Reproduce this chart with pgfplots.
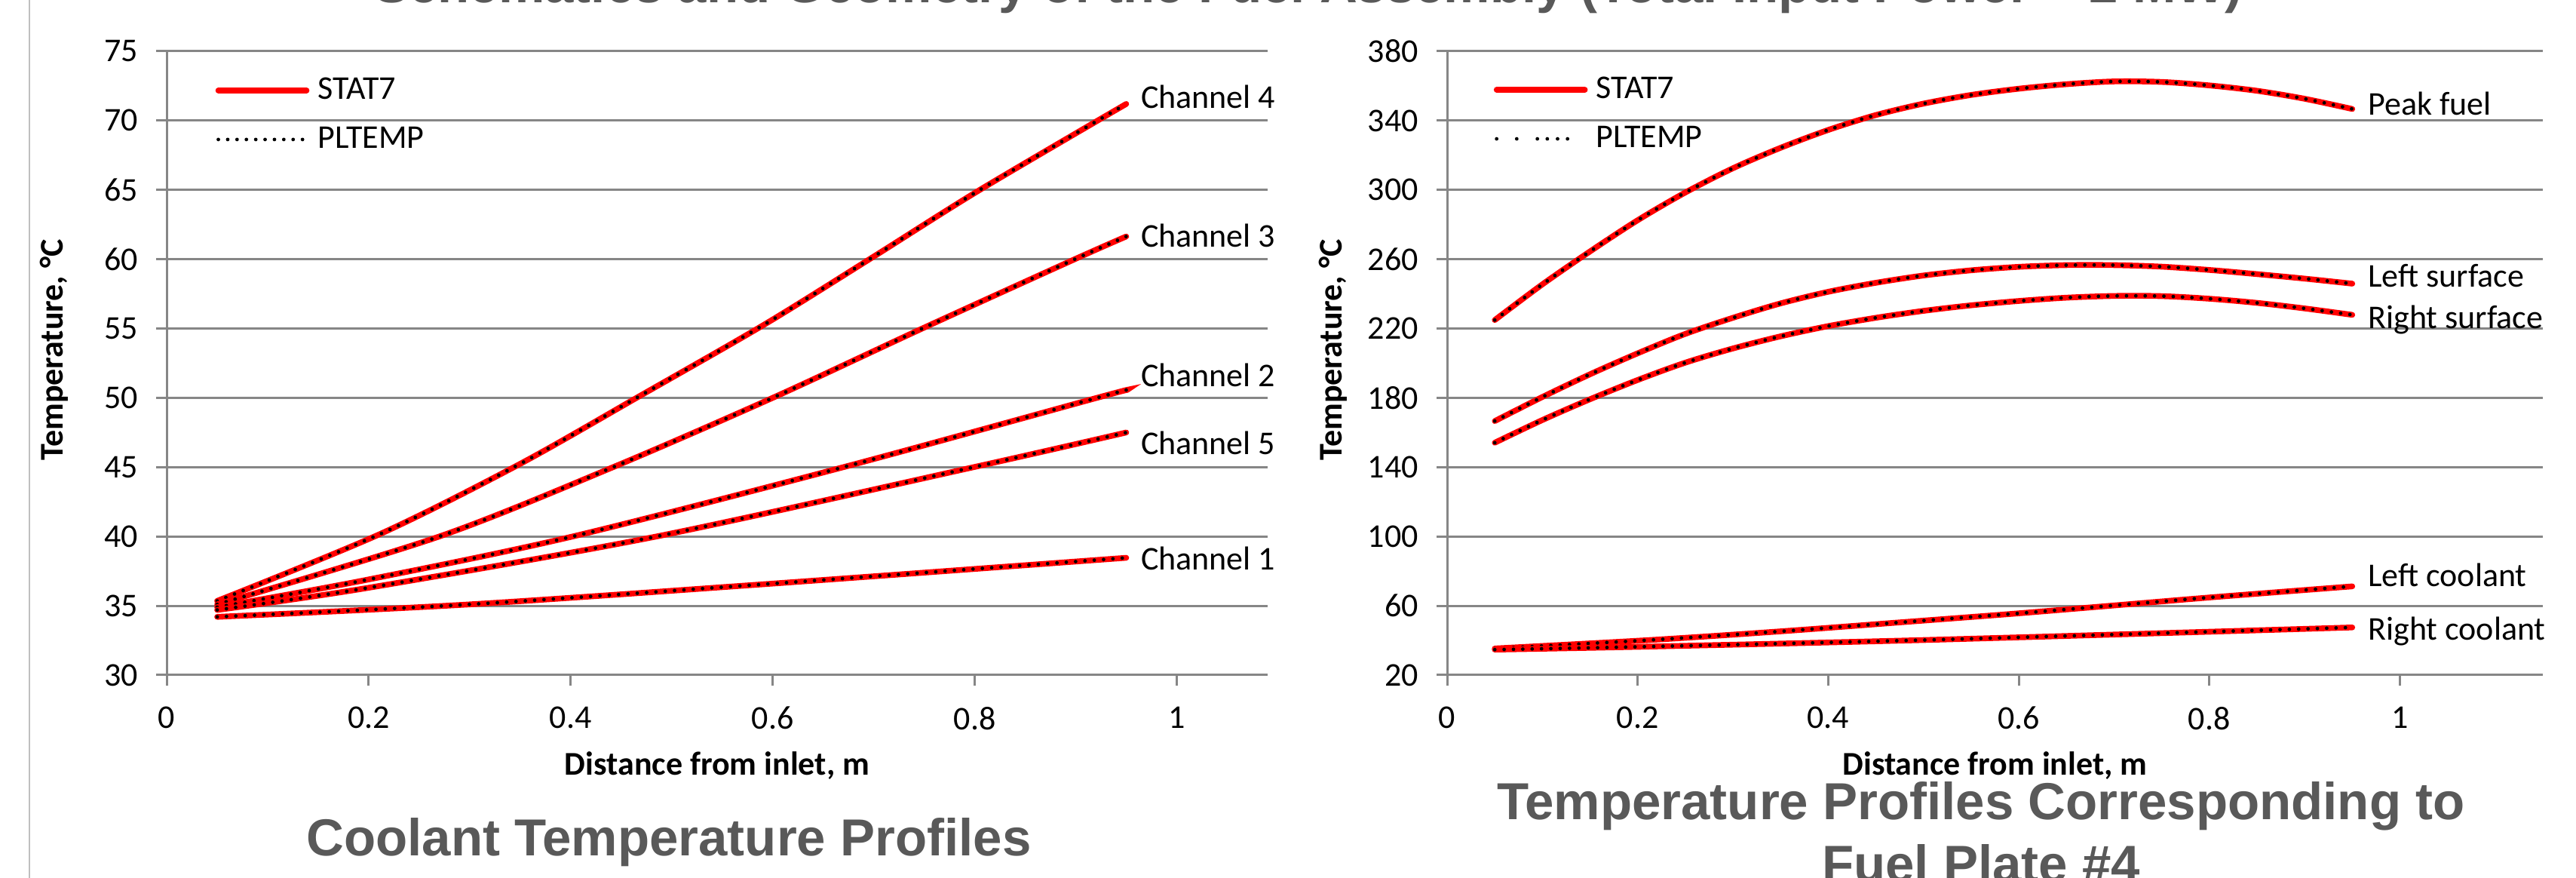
\documentclass[border=0pt]{standalone}
\usepackage{pgfplots}
\usepackage{pgfplotstable}
\pgfplotsset{compat=1.18}
\usepackage{fontspec}
\setmainfont{Carlito}
\newfontfamily\titlefont{Liberation Sans}
\definecolor{gridgray}{HTML}{868686}
\definecolor{titlegray}{HTML}{595959}
\definecolor{edgegray}{HTML}{BFBFBF}

% Left panel: coolant channels
\pgfplotstableread{
x y
0.05 35.35
0.212 40.2
0.349 45.2
0.470 50.2
0.592 55.3
0.698 60.1
0.805 65.0
0.95 71.2
}\chfour
\pgfplotstableread{
x y
0.05 35.1
0.27 40
0.442 45
0.6 50
0.748 55
0.899 60
0.95 61.64
}\chthree
\pgfplotstableread{
x y
0.05 34.9
0.2 36.9
0.402 40
0.67 45
0.921 50
0.95 50.55
}\chtwo
\pgfplotstableread{
x y
0.05 34.7
0.2 36.3
0.485 40
0.799 45
0.95 47.5
}\chfive
\pgfplotstableread{
x y
0.05 34.2
0.3 35.1
0.6 36.6
0.95 38.46
}\chone
% Right panel: fuel plate #4
\pgfplotstableread{
x y
0.05 224.9
0.10 245.5
0.15 264.5
0.20 282.5
0.25 298.5
0.30 312.5
0.35 324.3
0.40 334.6
0.45 343.2
0.50 349.8
0.55 354.8
0.60 358.4
0.65 361.0
0.70 362.6
0.75 362.3
0.80 360.3
0.85 357.2
0.90 352.6
0.95 346.7
}\peakfuel
\pgfplotstableread{
x y
0.05 166.6
0.10 180.5
0.15 193.6
0.20 205.7
0.25 216.9
0.30 226.2
0.35 234.5
0.40 241.2
0.45 246.4
0.50 250.6
0.55 253.6
0.60 255.6
0.65 256.6
0.70 256.6
0.75 255.7
0.80 253.8
0.85 251.4
0.90 248.8
0.95 245.9
}\leftsurf
\pgfplotstableread{
x y
0.05 154.1
0.10 167.2
0.15 179.2
0.20 190.3
0.25 200.3
0.30 208.5
0.35 215.5
0.40 221.4
0.45 226.2
0.50 230.2
0.55 233.4
0.60 235.9
0.65 237.8
0.70 238.8
0.75 238.7
0.80 237.2
0.85 234.8
0.90 231.6
0.95 227.9
}\rightsurf

\tikzset{lab/.style={anchor=base west, inner sep=0pt, font=\fontsize{11}{13}\selectfont, text=black}}
\pgfplotsset{
  stat/.style={draw=red, line width=1.9pt, line cap=round, smooth, no markers},
  pl/.style={draw=black, line width=1.2pt, line cap=round, dash pattern=on 0pt off 3.1pt, smooth, no markers},
  myaxis/.style={
    scale only axis,
    height=206.75pt,
    xmin=0,
    enlargelimits=false,
    clip=false,
    axis x line*=bottom,
    axis y line*=left,
    axis line style={gridgray, line width=0.75pt},
    ymajorgrids,
    major grid style={gridgray, line width=0.75pt},
    tick style={gridgray, line width=0.75pt},
    tick align=outside,
    major tick length=3.5pt,
    xtick={0,0.2,0.4,0.6,0.8,1},
    /pgf/number format/assume math mode=true,
    /pgf/number format/fixed,
    tick label style={font=\fontsize{11}{13}\selectfont, text=black},
    xticklabel style={yshift=-3.5pt},
    yticklabel style={xshift=-2.5pt},
    label style={font=\bfseries\fontsize{11}{13}\selectfont, text=black},
    xlabel={Distance from inlet, m},
    ylabel={Temperature, °C},
    xlabel style={at={(axis description cs:0.5,-0.145)}, anchor=center},
    legend image code/.code={\draw[#1] (0pt,0pt) -- (29.25pt,0pt);},
    legend cell align=left,
    legend style={draw=none, fill=none, inner sep=0pt, row sep=7.65pt,
      font=\fontsize{11}{13}\selectfont,
      nodes={inner xsep=2.75pt, inner ysep=0pt}},
  },
}

\begin{document}
\begin{tikzpicture}
\useasboundingbox (0,0) rectangle (854pt,291pt);
\draw[edgegray, line width=0.4pt] (9.75pt,0pt) -- (9.75pt,291pt);

% Main title (partly cut off at top)
\node[anchor=base, inner sep=0pt, text=titlegray,
  font=\titlefont\bfseries\fontsize{17.25}{20.7}\selectfont] at (433.75pt,290pt)
  {Schematics and Geometry of the Fuel Assembly (Total Input Power = 2 MW)};

% ---------------- Left panel ----------------
\begin{axis}[myaxis,
  at={(55.25pt,67.25pt)}, anchor=south west,
  width=365pt,
  xmax=1.09,
  ymin=30, ymax=75,
  ytick={30,35,...,75},
  ylabel style={at={(axis description cs:-0.102,0.521)}, anchor=center},
  legend style={at={(axis description cs:0.0438,0.898)}, anchor=west},
]
\addplot[stat] table {\chfour};
\addlegendentry{STAT7}
\addplot[pl] table {\chfour};
\addlegendentry{PLTEMP}
\addplot[stat, forget plot] table {\chthree};
\addplot[pl, forget plot] table {\chthree};
\addplot[stat, forget plot] table {\chtwo};
\addplot[pl, forget plot] table {\chtwo};
\addplot[stat, forget plot] table {\chfive};
\addplot[pl, forget plot] table {\chfive};
\addplot[stat, forget plot] table {\chone};
\addplot[pl, forget plot] table {\chone};
\node[lab] at (axis cs:0.964,70.89) {Channel 4};
\node[lab] at (axis cs:0.964,60.88) {Channel 3};
\node[lab] at (axis cs:0.964,50.82) {Channel 2};
\node[lab] at (axis cs:0.964,45.93) {Channel 5};
\node[lab] at (axis cs:0.964,37.61) {Channel 1};
\end{axis}

% ---------------- Right panel ----------------
\begin{axis}[myaxis,
  at={(479.75pt,67.25pt)}, anchor=south west,
  width=363.25pt,
  xmax=1.15,
  ymin=20, ymax=380,
  ytick={20,60,...,380},
  ylabel style={at={(axis description cs:-0.104,0.521)}, anchor=center},
  legend style={at={(axis description cs:0.042,0.899)}, anchor=west},
]
\addplot[stat] table {\peakfuel};
\addlegendentry{STAT7}
\addlegendimage{draw=black, line width=1.2pt, line cap=round,
  dash pattern=on 0pt off 6.67pt on 0pt off 6.83pt on 0pt off 3.3pt on 0pt off 3.4pt on 0pt off 3.3pt on 0pt off 12pt}
\addlegendentry{PLTEMP}
\addplot[pl, forget plot] table {\peakfuel};
\addplot[stat, forget plot] table {\leftsurf};
\addplot[pl, forget plot] table {\leftsurf};
\addplot[stat, forget plot] table {\rightsurf};
\addplot[pl, forget plot] table {\rightsurf};
\addplot[stat, forget plot] table {\chfour};
\addplot[pl, forget plot] table {\chfour};
\addplot[stat, forget plot] table {\chfive};
\addplot[pl, forget plot] table {\chfive};
\node[lab] at (axis cs:0.966,343.0) {Peak fuel};
\node[lab] at (axis cs:0.966,244.0) {Left surface};
\node[lab] at (axis cs:0.966,220.2) {Right surface};
\node[lab] at (axis cs:0.966,71.3) {Left coolant};
\node[lab] at (axis cs:0.966,40.3) {Right coolant};
\end{axis}

% Panel titles
\node[anchor=base, inner sep=0pt, text=titlegray,
  font=\titlefont\bfseries\fontsize{17.25}{20.7}\selectfont] at (221.75pt,7.25pt)
  {Coolant Temperature Profiles};
\node[anchor=base, inner sep=0pt, text=titlegray,
  font=\titlefont\bfseries\fontsize{17.25}{20.7}\selectfont] at (656.75pt,19.25pt)
  {Temperature Profiles Corresponding to};
\node[anchor=base, inner sep=0pt, text=titlegray,
  font=\titlefont\bfseries\fontsize{17.25}{20.7}\selectfont] at (656.75pt,-1.5pt)
  {Fuel Plate \#4};
\end{tikzpicture}
\end{document}
